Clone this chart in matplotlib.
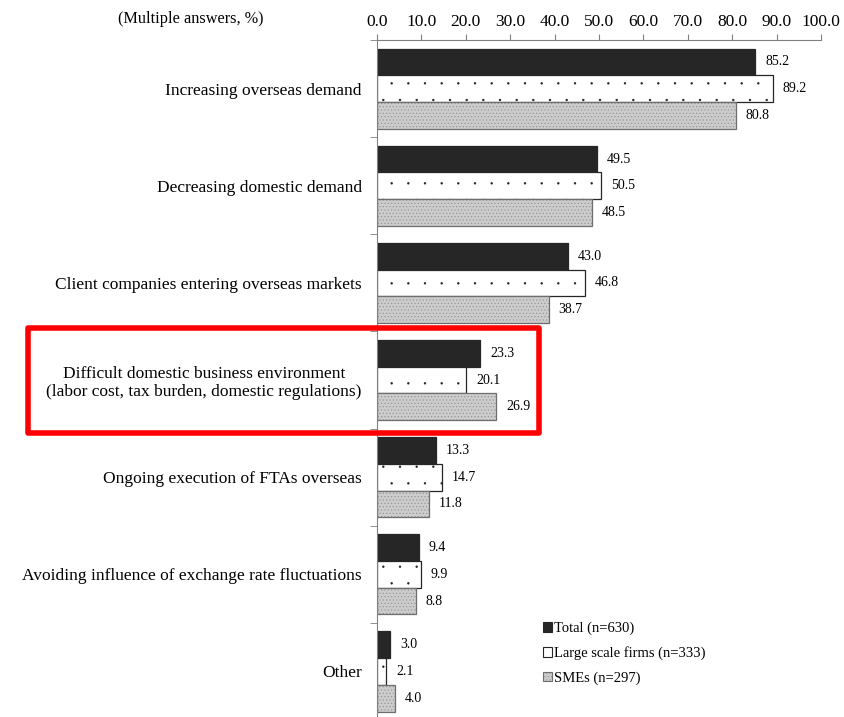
import numpy as np
import matplotlib.pyplot as plt
import matplotlib.hatch
from matplotlib.patches import Patch, Rectangle

plt.rcParams['font.family'] = ['Liberation Serif', 'DejaVu Serif']
plt.rcParams['hatch.linewidth'] = 0.6
# smaller dots for the '.' hatch (default ones are too fat)
matplotlib.hatch.SmallFilledCircles.size = 0.045

categories = [
    'Increasing overseas demand',
    'Decreasing domestic demand',
    'Client companies entering overseas markets',
    'Difficult domestic business environment\n(labor cost, tax burden, domestic regulations)',
    'Ongoing execution of FTAs overseas',
    'Avoiding influence of exchange rate fluctuations',
    'Other',
]
total = [85.2, 49.5, 43.0, 23.3, 13.3, 9.4, 3.0]
large = [89.2, 50.5, 46.8, 20.1, 14.7, 9.9, 2.1]
smes = [80.8, 48.5, 38.7, 26.9, 11.8, 8.8, 4.0]
series_labels = ['Total (n=630)', 'Large scale firms (n=333)', 'SMEs (n=297)']

fig = plt.figure(figsize=(8.44, 7.17), dpi=100)
ax = fig.add_axes([377 / 844, 1 - 720 / 717, 444 / 844, 680 / 717])

y = np.arange(len(categories))
h = 0.275
styles = [
    dict(color='#262626', edgecolor='#262626'),
    dict(color='white', edgecolor='#262626', hatch='.'),
    dict(color='#cccccc', edgecolor='#6e6e6e', hatch='.....'),
]
for i, (vals, st) in enumerate(zip([total, large, smes], styles)):
    pos = y + (i - 1) * h
    bars = ax.barh(pos, vals, height=h, linewidth=0.9, **st)
    for b, v in zip(bars, vals):
        ax.text(v + 2.2, b.get_y() + h / 2, f'{v:.1f}', va='center', ha='left', fontsize=10)

ax.set_ylim(len(categories) - 0.5, -0.5)
ax.set_xlim(0, 100)
ax.set_yticks(y)
ax.set_yticklabels(categories, fontsize=12.5)
for lab in ax.get_yticklabels():
    lab.set_multialignment('center')
ax.tick_params(axis='y', length=0, pad=11)
ax.set_yticks(np.arange(-0.5, len(categories)), minor=True)
ax.tick_params(axis='y', which='minor', length=5, color='#808080')

ax.xaxis.tick_top()
ax.set_xticks(np.arange(0, 101, 10))
ax.set_xticklabels([f'{t:.1f}' for t in np.arange(0, 101, 10)], fontsize=12.5)
ax.tick_params(axis='x', length=4, color='#808080', pad=3)

for s in ['right', 'bottom']:
    ax.spines[s].set_visible(False)
for s in ['top', 'left']:
    ax.spines[s].set_color('#808080')
    ax.spines[s].set_linewidth(0.8)

fig.text(0.226, 0.974, '(Multiple answers, %)', ha='center', va='center', fontsize=11.7)

handles = [Patch(facecolor=st['color'], edgecolor=st['edgecolor'], hatch=st.get('hatch'), linewidth=0.8)
           for st in styles]
fig.legend(handles, series_labels, loc='upper left', bbox_to_anchor=(537 / 844, 1 - 616 / 717), frameon=False,
           fontsize=10.5, handlelength=0.6, handleheight=0.6, handletextpad=0.2, labelspacing=0.75,
           borderaxespad=0)

fig.patches.append(Rectangle((27.5 / 844, 1 - 432.5 / 717), (538.5 - 27.5) / 844, (432.5 - 327.5) / 717,
                             transform=fig.transFigure, fill=False, edgecolor='#ff0000', linewidth=4,
                             joinstyle='round'))

fig.savefig('out.png', dpi=100)
